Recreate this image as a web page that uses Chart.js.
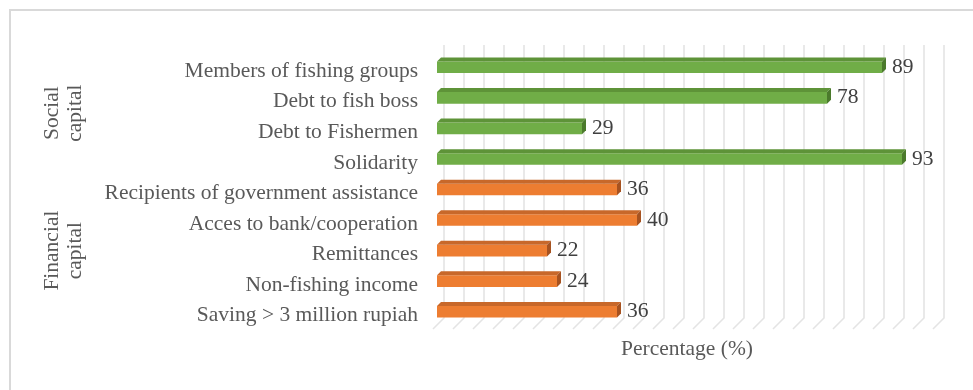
<!DOCTYPE html>
<html>
<head>
<meta charset="utf-8">
<script src="https://cdn.jsdelivr.net/npm/chart.js@4.4.1/dist/chart.umd.min.js"></script>
<style>
  html, body { margin: 0; padding: 0; background: #fff; }
  #wrap { position: relative; width: 973px; height: 390px; overflow: hidden; }
  #frame { position: absolute; left: 9px; top: 9px; width: 1000px; height: 500px; border: 2px solid #d9d9d9; }
  canvas { position: absolute; left: 0; top: 0; }
</style>
</head>
<body>
<div id="wrap">
  <div id="frame"></div>
  <canvas id="chart" width="973" height="390"></canvas>
</div>
<script>
// categories top to bottom, as in the figure
var categories = [
    'Members of fishing groups',
    'Debt to fish boss',
    'Debt to Fishermen',
    'Solidarity',
    'Recipients of government assistance',
    'Acces to bank/cooperation',
    'Remittances',
    'Non-fishing income',
    'Saving > 3 million rupiah'
];
var percentages = [89, 78, 29, 93, 36, 40, 22, 24, 36];
// 0 = social capital, 1 = financial capital
var groupIndex = [0, 0, 0, 0, 1, 1, 1, 1, 1];
var groupLabels = [['Social', 'capital'], ['Financial', 'capital']];

var faceColors = ['#70AD47', '#ED7D31'];
var topColors = ['#5E9338', '#C8682A'];
var sideColors = ['#4B7A2C', '#A65220'];
var textGray = '#595959';
var depth = 4;

Chart.defaults.font.family = "'Liberation Serif', 'Times New Roman', serif";

//back wall grid lines, shifted back and with the floor diagonal
var wallGrid = {
    id: 'wallGrid',
    beforeDatasetsDraw: function(chart) {
        var ctx = chart.ctx;
        var xs = chart.scales.x;
        var area = chart.chartArea;
        ctx.save();
        ctx.strokeStyle = '#e4e4e4';
        ctx.lineWidth = 1.6;
        xs.ticks.forEach(function(t) {
            var xb = xs.getPixelForValue(t.value) + 7;
            ctx.beginPath();
            ctx.moveTo(xb, area.top - 7);
            ctx.lineTo(xb, area.bottom - 9);
            ctx.lineTo(xb - 11, area.bottom + 2);
            ctx.stroke();
        });
        ctx.restore();
    }
};

//top and side faces of each bar, then the value labels
var bars3d = {
    id: 'bars3d',
    afterDatasetsDraw: function(chart) {
        var ctx = chart.ctx;
        var meta = chart.getDatasetMeta(0);
        ctx.save();
        meta.data.forEach(function(bar, i) {
            var g = groupIndex[i];
            var top = bar.y - bar.height / 2;
            var bottom = bar.y + bar.height / 2;
            ctx.fillStyle = topColors[g];
            ctx.beginPath();
            ctx.moveTo(bar.base, top);
            ctx.lineTo(bar.base + depth, top - depth);
            ctx.lineTo(bar.x + depth, top - depth);
            ctx.lineTo(bar.x, top);
            ctx.closePath();
            ctx.fill();
            ctx.fillStyle = sideColors[g];
            ctx.beginPath();
            ctx.moveTo(bar.x, top);
            ctx.lineTo(bar.x + depth, top - depth);
            ctx.lineTo(bar.x + depth, bottom - depth);
            ctx.lineTo(bar.x, bottom);
            ctx.closePath();
            ctx.fill();

            ctx.fillStyle = '#404040';
            ctx.font = "21.5px 'Liberation Serif', 'Times New Roman', serif";
            ctx.textAlign = 'left';
            ctx.textBaseline = 'middle';
            ctx.fillText(String(percentages[i]), bar.x + depth + 6, bar.y);
        });
        ctx.restore();
    }
};

//rotated group names left of the category labels
var groupNames = {
    id: 'groupNames',
    afterDraw: function(chart) {
        var ctx = chart.ctx;
        var ys = chart.scales.y;
        ctx.save();
        ctx.fillStyle = textGray;
        ctx.font = "21.5px 'Liberation Serif', 'Times New Roman', serif";
        ctx.textAlign = 'center';
        ctx.textBaseline = 'alphabetic';
        groupLabels.forEach(function(lines, g) {
            var first = groupIndex.indexOf(g);
            var last = groupIndex.lastIndexOf(g);
            var yc = (ys.getPixelForValue(first) + ys.getPixelForValue(last)) / 2;
            lines.forEach(function(line, k) {
                ctx.save();
                ctx.translate(58 + k * 23, yc);
                ctx.rotate(-Math.PI / 2);
                ctx.fillText(line, 0, 0);
                ctx.restore();
            });
        });
        ctx.restore();
    }
};

var ctx = document.getElementById('chart').getContext('2d');
var chart = new Chart(ctx, {
    type: 'bar',
    data: {
        labels: categories,
        datasets: [{
            data: percentages,
            backgroundColor: groupIndex.map(function(g) { return faceColors[g]; }),
            borderWidth: 0,
            barPercentage: 0.38,
            categoryPercentage: 1
        }]
    },
    options: {
        indexAxis: 'y',
        responsive: false,
        animation: false,
        layout: { padding: { top: 52, right: 36, left: 0, bottom: 0 } },
        plugins: {
            legend: { display: false },
            tooltip: { enabled: false }
        },
        scales: {
            x: {
                min: 0,
                max: 100,
                ticks: { display: false, stepSize: 4 },
                grid: { display: false, drawTicks: false },
                border: { display: false },
                title: {
                    display: true,
                    text: 'Percentage (%)',
                    color: textGray,
                    font: { size: 21.5 },
                    padding: { top: 0, bottom: 28 }
                },
                afterFit: function(s) { s.height = 63; }
            },
            y: {
                ticks: {
                    color: textGray,
                    font: { size: 21.5 },
                    padding: 19,
                    labelOffset: 4,
                    autoSkip: false
                },
                grid: { display: false, drawTicks: false },
                border: { display: false },
                afterFit: function(s) { s.width = 437; }
            }
        }
    },
    plugins: [wallGrid, bars3d, groupNames]
});
</script>
</body>
</html>
